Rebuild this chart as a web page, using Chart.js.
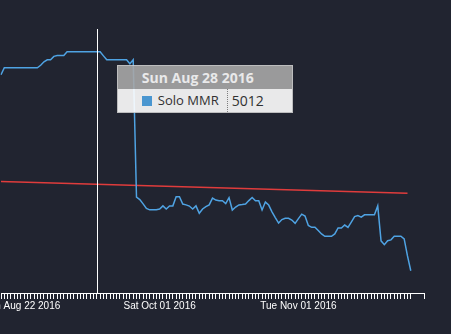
<!DOCTYPE html>
<html>
<head>
<meta charset="utf-8">
<script src="https://cdn.jsdelivr.net/npm/chart.js@4.4.1/dist/chart.umd.min.js"></script>
<style>
    html, body { margin: 0; padding: 0; background: #212430; overflow: hidden; }
    #wrap { position: relative; width: 451px; height: 334px; }
    #chart-tooltip {
        position: absolute;
        width: 174px;
        border: 1px solid #cfcfcf;
        opacity: 0.9;
        pointer-events: none;
        font-family: 'Open Sans', sans-serif;
        font-size: 13px;
    }
    #chart-tooltip .tt-title {
        height: 23px; line-height: 23px;
        padding-left: 24px;
        background: #a8a8a8; color: #fff; font-weight: bold; font-size: 14px;
    }
    #chart-tooltip .tt-body {
        height: 23px;
        display: flex; align-items: stretch;
        padding-left: 24px;
        background: #fff; color: #333;
    }
    #chart-tooltip .tt-swatch { width: 10px; height: 10px; margin: 7px 6px 0 0; }
    #chart-tooltip .tt-label { width: 69px; line-height: 23px; border-right: 1px dotted #888; }
    #chart-tooltip .tt-value { padding-left: 4px; line-height: 23px; font-size: 14px; }
</style>
</head>
<body>
<div id="wrap"><canvas id="mmrChart"></canvas></div>
<script>
// days played and how many ranked solo games on each
const matchDays = [
    ['2016-08-20', 3], ['2016-08-21', 3], ['2016-08-22', 5], ['2016-08-23', 4],
    ['2016-08-24', 4], ['2016-08-25', 3], ['2016-08-26', 3], ['2016-08-27', 4],
    ['2016-08-28', 3], ['2016-08-29', 4], ['2016-08-30', 5],
    ['2016-09-17', 2], ['2016-09-20', 2], ['2016-09-24', 2], ['2016-09-29', 1],
    ['2016-10-01', 3], ['2016-10-02', 3], ['2016-10-04', 3], ['2016-10-06', 3],
    ['2016-10-08', 3], ['2016-10-09', 3], ['2016-10-12', 3], ['2016-10-15', 3],
    ['2016-10-16', 3], ['2016-10-19', 3], ['2016-10-22', 3], ['2016-10-23', 3],
    ['2016-10-26', 3], ['2016-10-29', 3],
    ['2016-11-01', 3], ['2016-11-03', 3], ['2016-11-05', 3], ['2016-11-06', 3],
    ['2016-11-09', 3], ['2016-11-12', 3], ['2016-11-13', 3], ['2016-11-16', 3],
    ['2016-11-19', 3], ['2016-11-20', 3], ['2016-11-23', 3], ['2016-11-26', 2]
];

// solo MMR after each game
const soloMmr = [
    4873, 4915, 4915, 4915, 4915, 4915, 4915, 4915, 4915, 4915,
    4915, 4915, 4930, 4951, 4963, 4963, 4984, 4989, 4989, 4989,
    5012, 5012, 5012, 5012, 5012, 5012, 5012, 5012, 5012, 5012,
    5012, 4987, 4963, 4963, 4963, 4963, 4963, 4963, 4963, 4939,
    4963, 4131, 4116, 4090, 4063, 4054, 4054, 4054, 4059, 4078,
    4059, 4078, 4078, 4133, 4133, 4089, 4084, 4077, 4059, 4078,
    4033, 4059, 4074, 4084, 4125, 4113, 4109, 4109, 4092, 4128,
    4053, 4071, 4084, 4086, 4089, 4110, 4129, 4109, 4109, 4053,
    4101, 4083, 4042, 4007, 3974, 3995, 4003, 4003, 3992, 3972,
    4001, 4028, 4016, 3959, 3948, 3948, 3929, 3908, 3894, 3894,
    3894, 3908, 3944, 3944, 3962, 3948, 3980, 4013, 4019, 4010,
    4024, 4024, 4024, 4024, 4078, 3866, 3843, 3867, 3872, 3894,
    3894, 3894, 3878, 3775, 3685
];

// trend line end points: [game index, mmr]
const trendPoints = [[0, 4226], [123, 4154]];

const tickDays = ['2016-08-22', '2016-10-01', '2016-11-01'];
const hoverIndex = 29;
const axisTailSlots = 4; // axis keeps going a bit past the last game

const dayKeys = [];
matchDays.forEach(([day, games]) => {
    for (let i = 0; i < games; i++) dayKeys.push(day);
});

function dayLabel(day) {
    const [y, m, d] = day.split('-').map(Number);
    return new Date(y, m - 1, d).toDateString();
}

const labels = dayKeys.map(dayLabel);
for (let i = 0; i < axisTailSlots; i++) labels.push('');

// only the two ends are known, the line is drawn straight between them
const trendData = [];
trendPoints.forEach(([i, mmr]) => { trendData[i] = mmr; });
for (let i = 0; i < trendData.length; i++) {
    if (trendData[i] === undefined) trendData[i] = null;
}

function externalTooltip(context) {
    const { chart, tooltip } = context;
    let el = document.getElementById('chart-tooltip');
    if (!el) {
        el = document.createElement('div');
        el.id = 'chart-tooltip';
        chart.canvas.parentNode.appendChild(el);
    }
    if (tooltip.opacity === 0 || !tooltip.dataPoints.length) {
        el.style.display = 'none';
        return;
    }
    const item = tooltip.dataPoints[0];
    el.innerHTML =
        '<div class="tt-title">' + tooltip.title[0] + '</div>' +
        '<div class="tt-body">' +
            '<span class="tt-swatch" style="background:' + item.dataset.borderColor + '"></span>' +
            '<span class="tt-label">' + item.dataset.label + '</span>' +
            '<span class="tt-value">' + item.raw + '</span>' +
        '</div>';
    el.style.display = 'block';
    el.style.left = (chart.canvas.offsetLeft + tooltip.caretX + 20) + 'px';
    el.style.top = (chart.canvas.offsetTop + tooltip.caretY + 13) + 'px';
}

// vertical guide through the hovered game
const crosshair = {
    id: 'crosshair',
    afterDatasetsDraw(chart) {
        const active = chart.tooltip.getActiveElements();
        if (!active.length) return;
        const x = Math.round(active[0].element.x) + 0.5;
        const { top, bottom } = chart.chartArea;
        const ctx = chart.ctx;
        ctx.save();
        ctx.beginPath();
        ctx.moveTo(x, top);
        ctx.lineTo(x, bottom);
        ctx.lineWidth = 1;
        ctx.strokeStyle = '#ffffff';
        ctx.stroke();
        ctx.restore();
    }
};

const ctx = document.getElementById('mmrChart').getContext('2d');
const chart = new Chart(ctx, {
    type: 'line',
    data: {
        labels: labels,
        datasets: [
            {
                label: 'Solo MMR',
                data: soloMmr,
                borderColor: '#4fa3e3',
                borderWidth: 1.5,
                pointRadius: 0,
                pointHoverRadius: 0,
                tension: 0,
                fill: false
            },
            {
                label: 'Trend',
                data: trendData,
                spanGaps: true,
                borderColor: '#e03c3c',
                borderWidth: 1.5,
                pointRadius: 0,
                pointHoverRadius: 0,
                fill: false
            }
        ]
    },
    options: {
        responsive: true,
        maintainAspectRatio: false,
        animation: false,
        events: [],
        layout: { padding: { top: 29, right: 27, bottom: 21, left: 0 } },
        interaction: { mode: 'index', intersect: false },
        plugins: {
            legend: { display: false },
            title: { display: false },
            tooltip: {
                enabled: false,
                filter: (item) => item.datasetIndex === 0,
                external: externalTooltip
            }
        },
        scales: {
            x: {
                type: 'category',
                offset: false,
                border: { display: true, color: '#ffffff', width: 1 },
                grid: {
                    drawOnChartArea: false,
                    drawTicks: true,
                    tickLength: 6,
                    tickWidth: 1,
                    tickColor: (c) => (c.index >= soloMmr.length && c.index < labels.length - 1) ? 'rgba(0,0,0,0)' : '#ffffff'
                },
                ticks: {
                    autoSkip: false,
                    maxRotation: 0,
                    minRotation: 0,
                    padding: 1,
                    color: '#ffffff',
                    font: { family: "'Liberation Sans', Arial, sans-serif", size: 10 },
                    callback: function (value, index) {
                        const day = dayKeys[index];
                        if (day && tickDays.includes(day) && dayKeys[index - 1] !== day) {
                            return labels[index];
                        }
                        return '';
                    }
                }
            },
            y: {
                display: false,
                min: 3550,
                max: 5150
            }
        }
    },
    plugins: [crosshair]
});

chart.setActiveElements([{ datasetIndex: 0, index: hoverIndex }]);
chart.tooltip.setActiveElements([{ datasetIndex: 0, index: hoverIndex }], { x: 0, y: 0 });
chart.update();
</script>
</body>
</html>
